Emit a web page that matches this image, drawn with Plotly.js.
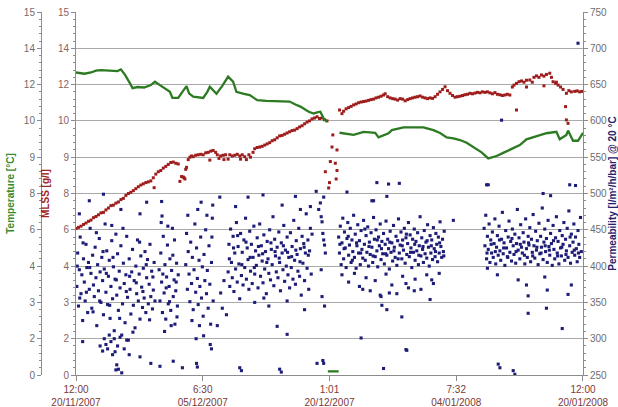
<!DOCTYPE html>
<html>
<head>
<meta charset="utf-8">
<script src="https://cdn.plot.ly/plotly-3.0.1.min.js"></script>
<style>html,body{margin:0;padding:0;background:#fff;}#chart{width:618px;height:407px;}</style>
</head>
<body>
<div id="chart"></div>
<script>
// x values are days since 20/11/2007 12:00
const xTickDays = [0, 15.25, 30.5, 45.75, 61];
const xTickLabels = ["12:00<br>20/11/2007", "6:30<br>05/12/2007", "1:01<br>20/12/2007", "7:32<br>04/01/2008", "12:00<br>20/01/2008"];
const leftTickValues = [0, 1.5, 3, 4.5, 6, 7.5, 9, 10.5, 12, 13.5, 15];
const leftTickLabels = ["0", "2", "3", "4", "6", "8", "9", "10", "12", "14", "15"];
const permTickValues = [250, 300, 350, 400, 450, 500, 550, 600, 650, 700, 750];

// Temperature [°C] (null = break in the record)
const tempDay = [0,1.0,1.8,2.4,3.0,4.0,5.0,5.4,5.9,6.5,6.8,7.4,8.2,9.0,9.5,10.1,10.7,11.3,11.6,12.3,12.8,13.3,13.6,14.1,15.3,15.8,16.1,16.6,16.9,17.6,18.3,18.9,19.3,20.2,20.9,21.4,21.8,22.9,24.5,25.7,26.4,27.0,28.0,28.6,29.0,29.4,29.8,30.2,
  null,30.3,31.6,null,
  31.7,33.4,34.6,36.0,36.4,37.0,37.6,38.0,39.4,41.8,43.0,43.8,44.6,45.4,46.2,47.0,47.8,48.8,49.6,50.6,51.4,52.2,53.4,54.2,55.0,55.8,56.6,57.8,58.2,59.0,59.2,59.8,60.4,61.0];
const temperature = [12.5,12.45,12.5,12.58,12.6,12.58,12.56,12.63,12.4,12.05,11.85,11.9,11.88,11.98,12.12,11.98,11.85,11.7,11.45,11.45,11.7,11.94,11.64,11.5,11.45,11.7,11.91,11.75,11.62,11.95,12.33,12.12,11.7,11.62,11.57,11.45,11.36,11.33,11.32,11.3,11.18,11.09,10.88,10.8,10.85,10.88,10.6,10.47,
  null,0.15,0.15,null,
  10.01,9.92,10.05,10.01,9.82,9.9,9.99,10.12,10.23,10.23,10.12,10.0,9.82,9.78,9.71,9.6,9.43,9.2,8.95,9.05,9.18,9.3,9.5,9.74,9.82,9.92,9.99,10.05,9.74,9.92,10.1,9.68,9.68,10.01];

// MLSS [g/l] as [day, value]
const mlss = [
 [0.0,6.05],[0.3,6.1],[0.6,6.15],[0.9,6.22],[1.2,6.28],[1.5,6.35],[1.8,6.4],[2.1,6.5],[2.4,6.55],[2.7,6.62],[3.0,6.7],[3.3,6.72],[3.6,6.82],[3.9,6.9],[4.2,7.0],[4.5,7.02],[4.8,7.1],[5.1,7.15],[5.4,7.25],[5.7,7.3],[6.0,7.42],[6.3,7.5],[6.6,7.55],[6.9,7.62],[7.2,7.7],[7.5,7.78],[7.8,7.85],[8.1,7.9],[8.4,7.95],[8.7,7.98],[9.0,8.02],[9.3,8.15],[9.4,7.74],[9.6,8.3],[9.9,8.4],[10.2,8.45],[10.5,8.55],[10.8,8.62],[11.1,8.7],[11.4,8.78],[11.7,8.8],[12.0,8.75],[12.3,8.72],
 [12.5,8.0],[12.7,8.2],[12.9,8.18],[13.0,8.15],[13.1,8.1],[13.2,8.5],[13.3,8.58],
 [13.5,8.9],[13.7,9.0],[13.9,9.05],[14.1,9.02],[14.4,9.08],[14.7,9.1],[15.0,9.12],[15.3,9.1],[15.6,9.18],[15.9,9.2],[16.1,8.88],[16.2,9.25],[16.5,9.28],[16.8,9.2],[17.0,9.1],[17.2,8.95],[17.4,9.05],[17.7,9.08],[17.8,8.9],[18.0,9.1],[18.3,8.92],[18.5,9.1],[18.8,9.05],[19.1,9.08],[19.4,9.12],[19.7,9.05],[19.8,8.92],[20.0,9.1],[20.3,9.02],[20.5,8.9],[20.8,9.1],[21.0,9.0],[21.3,9.2],[21.5,9.35],[21.8,9.4],[22.1,9.42],[22.4,9.45],[22.7,9.5],[23.0,9.55],[23.3,9.6],[23.6,9.68],[23.9,9.72],[24.2,9.8],[24.5,9.88],[24.8,9.9],[25.1,9.95],[25.4,10.0],[25.7,10.05],[26.0,10.1],[26.3,10.12],[26.6,10.18],[26.9,10.25],[27.2,10.3],[27.5,10.38],[27.8,10.45],[28.1,10.5],[28.4,10.58],[28.7,10.62],[29.0,10.67],[29.3,10.6],[29.6,10.62],[29.9,10.55],[30.2,10.5],
 [30.9,9.92],[30.8,9.42],[31.4,9.3],[30.6,8.82],[31.2,8.75],[30.0,8.4],[31.4,8.45],[30.5,7.95],[31.3,8.1],[30.4,7.73],
 [31.7,10.95],[32.0,10.8],[32.2,10.9],[32.5,11.0],[32.8,11.05],[33.1,11.1],[33.4,11.16],[33.7,11.2],[34.0,11.25],[34.3,11.28],[34.6,11.3],[34.9,11.32],[35.2,11.35],[35.5,11.38],[35.8,11.4],[36.1,11.45],[36.4,11.48],[36.7,11.52],[37.0,11.57],[37.2,11.62],[37.5,11.5],[37.8,11.45],[38.1,11.42],[38.4,11.4],[38.7,11.36],[39.0,11.42],[39.3,11.4],[39.6,11.33],[39.9,11.38],[40.2,11.42],[40.5,11.45],[40.8,11.48],[41.1,11.5],[41.4,11.53],[41.7,11.48],[42.0,11.45],[42.3,11.42],[42.6,11.45],[42.9,11.43],[43.2,11.5],[43.5,11.6],[43.8,11.7],[44.1,11.8],[44.4,11.91],[44.7,11.75],[45.0,11.64],[45.3,11.55],[45.6,11.48],[45.9,11.5],[46.2,11.52],[46.5,11.55],[46.8,11.58],[47.1,11.6],[47.4,11.64],[47.7,11.62],[48.0,11.65],[48.3,11.68],[48.6,11.66],[48.9,11.7],[49.2,11.68],[49.5,11.7],[49.8,11.66],[50.1,11.62],[50.4,11.67],[50.7,11.6],[51.0,11.58],[51.3,11.55],[51.6,11.57],[51.9,11.6],[52.2,11.57],[52.5,11.9],[52.7,11.98],[53.0,12.05],[53.0,10.95],[53.3,12.12],[53.6,12.15],[53.9,12.1],[54.2,12.18],[54.2,11.9],[54.6,12.19],[54.9,12.1],[55.1,12.3],[55.4,12.36],[55.7,12.3],[56.0,12.4],[56.3,12.35],[56.3,11.95],[56.6,12.42],[57.0,12.47],[57.2,12.3],[57.4,12.12],[57.7,12.05],[57.8,12.1],[58.0,11.98],[58.3,11.9],[58.6,11.8],[58.9,11.09],[59.0,11.64],[59.0,10.54],[59.2,10.4],[59.3,11.75],[59.6,11.7],[60.0,11.72],[60.3,11.74],[60.6,11.7],[60.9,11.72]
];

// Permeability [l/m²/h/bar] @ 20 °C as [day, value]
const permeability = [
 [0.1,372],[0.2,418],[0.3,345],[0.4,395],[0.5,440],[0.6,362],[0.7,388],[0.8,325],[0.9,410],[1.0,378],
 [1.1,352],[1.2,430],[1.3,398],[1.4,336],[1.5,405],[1.6,368],[1.7,452],[1.8,390],[1.9,342],[2.0,415],
 [2.1,374],[2.2,358],[2.3,426],[2.4,384],[2.5,318],[2.6,402],[2.7,366],[2.8,438],[2.9,392],[3.0,350],
 [3.1,412],[3.2,380],[3.3,333],[3.4,396],[3.5,458],[3.6,364],[3.7,421],[3.8,347],[3.9,386],[4.0,408],
 [4.1,328],[4.2,372],[4.3,435],[4.4,355],[4.5,399],[4.6,311],[4.7,382],[4.8,444],[4.9,360],[5.0,417],
 [5.1,339],[5.2,393],[5.3,370],[5.4,428],[5.5,305],[5.6,348],[5.7,404],[5.8,376],[5.9,322],[6.0,388],
 [6.1,441],[6.2,357],[6.3,298],[6.4,410],[6.5,368],[6.6,334],[6.7,392],[6.8,423],[6.9,346],[7.0,380],
 [7.1,315],[7.2,400],[7.3,362],[7.4,436],[7.5,352],[7.6,389],[7.7,327],[7.8,414],[7.9,371],[8.0,343],
 [8.1,397],[8.2,356],[8.3,420],[8.4,336],[8.5,384],[8.6,409],[8.7,348],[8.8,375],[8.9,430],[9.0,358],
 [9.1,393],[9.2,341],[9.3,367],[9.4,405],[9.5,352],
 [0.15,400],[0.45,356],[0.85,432],[1.25,364],[1.65,398],[2.05,337],[2.45,446],[2.85,352],[3.25,420],[3.65,390],
 [4.05,346],[4.45,412],[4.85,381],[5.25,328],[5.65,452],[6.05,365],[6.45,386],[6.85,309],[7.25,377],[7.65,433],
 [8.05,365],[8.45,402],[8.85,326],[9.25,385],
 [0.4,472],[1.6,490],[3.3,499],[4.3,456],[5.4,478],[7.7,472],[8.5,488],[2.9,290],[6.4,278],[0.8,296],[3.2,283],[4.8,257],[5.5,253],
 [3.4,300],[3.6,292],[3.8,286],[4.0,305],[4.2,296],[4.4,278],[4.6,300],[4.7,282],[4.9,264],[5.0,290],[5.1,258],[5.3,302],[5.8,286],[6.1,298],[7.7,275],[9.0,266],
 [10.0,395],[10.1,352],[10.2,418],[10.3,378],[10.4,336],[10.5,441],[10.6,363],[10.7,402],[10.8,327],[10.9,385],
 [11.0,429],[11.1,348],[11.2,372],[11.3,410],[11.4,339],[11.5,394],[11.6,452],[11.7,358],[11.8,381],[11.9,320],
 [12.0,366],[12.1,404],[12.2,345],[12.3,388],[10.25,460],[10.65,310],[11.05,455],[11.45,318],[11.85,436],[12.15,330],
 [10.45,389],[10.85,370],[11.25,351],[11.65,415],[12.05,378],[10.3,489],[10.35,469],[10.1,262],[11.7,269],[12.8,260],
 [13.2,402],[13.3,445],[13.4,368],[13.5,420],[13.6,389],[13.7,351],[13.8,433],[13.9,376],[14.0,412],[14.1,340],
 [14.2,395],[14.3,458],[14.4,364],[14.5,425],[14.6,383],[14.7,347],[14.8,408],[14.9,372],[15.0,440],[15.1,356],
 [15.2,399],[15.3,331],[15.4,416],[15.5,380],[15.6,450],[15.7,362],[15.8,394],[15.9,342],[16.0,428],[16.1,375],
 [16.2,320],[16.3,405],[16.4,466],[16.5,352],[13.45,470],[13.95,325],[14.45,300],[14.85,318],[15.35,304],[15.75,470],
 [16.15,292],[16.35,440],[14.65,478],[15.05,488],[16.45,484],[14.6,261],[14.5,266],[16.3,286],
 [17.3,495],[17.4,363],[17.6,342],[17.0,318],[17.8,380],
 [18.3,392],[18.4,430],[18.5,372],[18.6,451],[18.7,405],[18.8,384],[18.9,441],[19.0,365],[19.1,418],[19.2,396],
 [19.3,460],[19.4,378],[19.5,427],[19.6,403],[19.7,355],[19.8,445],[19.9,387],[20.0,419],[20.1,374],[20.2,436],
 [20.3,398],[20.4,466],[20.5,382],[20.6,425],[20.7,409],[20.8,368],[20.9,448],[21.0,393],[21.1,430],[21.2,376],
 [21.3,412],[21.4,455],[21.5,389],[21.6,421],[21.7,401],[21.8,439],[21.9,370],[22.0,415],[22.1,458],[22.2,386],
 [22.3,428],[22.4,407],[22.5,377],[22.6,443],[22.7,396],[22.8,420],[22.9,362],[23.0,434],[23.1,410],[23.2,390],
 [23.3,450],[23.4,381],[23.5,423],[23.6,402],[23.7,468],[23.8,373],[23.9,437],[24.0,414],[24.1,392],[24.2,426],
 [24.3,384],[24.4,447],[24.5,405],[24.6,366],[24.7,432],[24.8,418],[24.9,395],[25.0,456],[25.1,379],[25.2,422],
 [25.3,400],[25.4,440],[25.5,388],[25.6,412],[25.7,370],[25.8,446],[25.9,398],[26.0,427],[26.1,382],[26.2,463],
 [26.3,408],[26.4,375],[26.5,435],[26.6,416],[26.7,393],[26.8,452],[26.9,386],[27.0,424],[27.1,360],[27.2,441],
 [27.3,404],[27.4,431],[27.5,380],[27.6,418],[27.7,472],[27.8,397],[27.9,436],[28.0,368],[28.1,421],[28.2,452],
 [28.3,389],[28.4,444],
 [18.45,410],[18.95,425],[19.45,442],[19.95,402],[20.45,433],[20.95,412],[21.45,398],[21.95,427],[22.45,417],[22.95,405],
 [23.45,432],[23.95,420],[24.45,411],[24.95,428],[25.45,419],[25.95,413],[26.45,422],[26.95,406],[27.45,426],[27.95,415],
 [20.7,495],[22.5,498],[26.4,496],[19.2,482],[24.8,484],[27.0,478],[28.2,482],[21.5,350],[23.2,345],[25.4,352],[27.5,340],[22.6,356],
 [18.1,333],[19.9,256],[24.7,254],[24.5,258],[19.7,260],[24.2,317],[25.4,306],
 [29.4,487],[29.5,468],[29.6,461],[29.7,445],[29.8,436],[29.9,429],[30.0,418],[29.5,395],[29.6,358],[29.9,345],[29.7,270],[29.8,266],[28.9,503],[29.2,478],[29.8,495],[29.0,266],
 [31.6,440],[31.7,418],[31.8,455],[31.9,402],[32.0,432],[32.1,466],[32.2,410],[32.3,447],[32.4,425],[32.5,398],
 [32.6,438],[32.7,460],[32.8,415],[32.9,429],[33.0,452],[33.1,405],[33.2,436],[33.3,420],[33.4,470],[33.5,412],
 [33.6,444],[33.7,397],[33.8,428],[33.9,457],[34.0,418],[34.1,435],[34.2,402],[34.3,449],[34.4,423],[34.5,411],
 [34.6,463],[34.7,430],[34.8,408],[34.9,442],[35.0,419],[35.1,454],[35.2,400],[35.3,433],[35.4,416],[35.5,446],
 [35.6,426],[35.7,405],[35.8,467],[35.9,437],[36.0,413],[36.1,450],[36.2,421],[36.3,399],[36.4,440],[36.5,428],
 [36.6,458],[36.7,409],[36.8,434],[36.9,417],[37.0,445],[37.1,403],[37.2,430],[37.3,462],[37.4,415],[37.5,437],
 [37.6,424],[37.7,396],[37.8,448],[37.9,419],[38.0,432],[38.1,407],[38.2,456],[38.3,426],[38.4,412],[38.5,441],
 [38.6,401],[38.7,435],[38.8,465],[38.9,418],[39.0,429],[39.1,447],[39.2,410],[39.3,436],[39.4,422],[39.5,452],
 [39.6,404],[39.7,439],[39.8,416],[39.9,431],[40.0,460],[40.1,413],[40.2,443],[40.3,425],[40.4,398],[40.5,437],
 [40.6,419],[40.7,451],[40.8,408],[40.9,434],[41.0,421],[41.1,446],[41.2,402],[41.3,428],[41.4,468],[41.5,414],
 [41.6,439],[41.7,423],[41.8,405],[41.9,449],[42.0,417],[42.1,433],[42.2,411],[42.3,457],[42.4,426],[42.5,400],
 [42.6,442],[42.7,418],[42.8,436],[42.9,409],[43.0,453],[43.1,424],[43.2,413],[43.3,445],[43.4,430],[43.5,406],
 [43.6,440],[43.7,418],[43.8,461],[43.9,427],[44.0,412],[44.1,437],[44.2,420],[44.3,448],
 [31.75,430],[32.25,424],[32.75,441],[33.25,408],[33.75,432],[34.25,418],[34.75,451],[35.25,427],[35.75,414],[36.25,436],
 [36.75,424],[37.25,417],[37.75,433],[38.25,421],[38.75,410],[39.25,428],[39.75,444],[40.25,419],[40.75,430],[41.25,415],
 [41.75,427],[42.25,435],[42.75,428],[43.25,420],[43.75,432],[44.25,414],
 [32.0,388],[32.8,378],[33.5,390],[34.1,372],[34.9,384],[35.4,366],[36.0,380],[36.7,358],[37.3,389],[38.0,374],
 [38.6,362],[39.3,386],[40.0,370],[40.8,382],[41.5,368],[42.2,388],[43.0,376],[43.7,390],
 [34.5,368],[36.6,360],[37.7,363],[36.8,346],[37.4,340],[39.2,330],[39.7,376],[40.7,366],[42.6,354],[42.8,381],[34.3,301],[39.7,285],[37.0,259],[39.8,284],
 [32.6,502],[35.6,490],[35.8,490],[37.4,496],[36.2,515],[37.6,513],[38.9,514],
 [45.4,463],[49.4,512],[51.2,601],[60.4,707],
 [49.1,452],[49.2,428],[49.3,470],[49.4,410],[49.5,441],[49.6,423],[49.7,458],[49.8,405],[49.9,436],[50.0,418],
 [50.1,447],[50.2,412],[50.3,431],[50.4,465],[50.5,403],[50.6,426],[50.7,442],[50.8,415],[50.9,455],[51.0,421],
 [51.1,408],[51.2,437],[51.3,474],[51.4,417],[51.5,432],[51.6,401],[51.7,449],[51.8,425],[51.9,413],[52.0,440],
 [52.1,462],[52.2,419],[52.3,434],[52.4,407],[52.5,451],[52.6,428],[52.7,416],[52.8,444],[52.9,404],[53.0,431],
 [53.1,478],[53.2,422],[53.3,439],[53.4,410],[53.5,457],[53.6,426],[53.7,418],[53.8,446],[53.9,433],[54.0,403],
 [54.1,465],[54.2,424],[54.3,412],[54.4,441],[54.5,429],[54.6,453],[54.7,406],[54.8,437],[54.9,419],[55.0,471],
 [55.1,428],[55.2,411],[55.3,448],[55.4,422],[55.5,435],[55.6,402],[55.7,459],[55.8,417],[55.9,441],[56.0,426],
 [56.1,480],[56.2,409],[56.3,433],[56.4,451],[56.5,420],[56.6,438],[56.7,405],[56.8,463],[56.9,427],[57.0,415],
 [57.1,445],[57.2,431],[57.3,401],[57.4,456],[57.5,423],[57.6,410],[57.7,439],[57.8,468],[57.9,418],[58.0,434],
 [58.1,403],[58.2,449],[58.3,425],[58.4,414],[58.5,442],[58.6,430],[58.7,460],[58.8,408],[58.9,437],[59.0,421],
 [59.1,452],[59.2,412],[59.3,476],[59.4,428],[59.5,404],[59.6,444],[59.7,419],[59.8,433],[59.9,458],[60.0,415],
 [60.1,440],[60.2,424],[60.3,406],[60.4,449],[60.5,430],[60.6,412],[60.7,467],[60.8,420],
 [49.45,418],[49.95,430],[50.45,420],[50.95,436],[51.45,425],[51.95,412],[52.45,438],[52.95,420],[53.45,430],[53.95,415],
 [54.45,432],[54.95,414],[55.45,426],[55.95,418],[56.45,428],[56.95,422],[57.45,435],[57.95,414],[58.45,426],[58.95,416],
 [59.45,440],[59.95,422],[60.45,418],
 [49.6,512],[59.4,512],[60.1,511],[56.2,500],[57.1,497],[49.5,397],[50.7,388],[53.2,381],[54.2,374],[54.4,359],[54.4,335],
 [56.6,342],[56.4,385],[56.7,367],[58.5,314],[59.2,361],[59.6,374],[50.8,265],[52.6,256],[51.0,260],[52.8,251]
];

const fontFam = "'Liberation Sans', Arial, sans-serif";
const axisGrey = '#8c8c8c';
const tickGrey = '#6e6e6e';

const traces = [
  {
    x: permeability.map(p => p[0]), y: permeability.map(p => p[1]),
    yaxis: 'y3', type: 'scatter', mode: 'markers', name: 'Permeability',
    marker: {symbol: 'square', size: 3.1, color: '#1d1d78'}
  },
  {
    x: mlss.map(p => p[0]), y: mlss.map(p => p[1]),
    yaxis: 'y', type: 'scatter', mode: 'markers', name: 'MLSS',
    marker: {symbol: 'square', size: 3, color: '#9e1c1c'}
  },
  {
    x: tempDay, y: temperature,
    yaxis: 'y2', type: 'scatter', mode: 'lines', name: 'Temperature',
    line: {color: '#2c7a22', width: 2.3, shape: 'linear'}, connectgaps: false
  }
];

const minorLeft = {tickmode: 'linear', tick0: 0, dtick: 0.3, ticks: 'outside', ticklen: 2, tickcolor: axisGrey, showgrid: false};

const layout = {
  width: 618, height: 407,
  margin: {l: 10, r: 35, t: 12, b: 32, pad: 0},
  paper_bgcolor: '#ffffff', plot_bgcolor: '#ffffff',
  showlegend: false,
  font: {family: fontFam, size: 10, color: tickGrey},
  xaxis: {
    domain: [0.1152, 1], range: [0, 61],
    tickmode: 'array', tickvals: xTickDays, ticktext: xTickLabels,
    ticks: 'outside', ticklen: 5, tickcolor: axisGrey,
    showline: true, linecolor: axisGrey, linewidth: 1,
    showgrid: false, zeroline: false,
    tickfont: {family: fontFam, size: 10, color: '#7a3a3a'}
  },
  yaxis: {
    range: [0, 15], tickmode: 'array', tickvals: leftTickValues, ticktext: leftTickLabels,
    ticks: 'outside', ticklen: 4, tickcolor: axisGrey,
    showline: true, linecolor: axisGrey, linewidth: 1,
    showgrid: true, gridcolor: '#a9a9a9', gridwidth: 1, zeroline: false,
    tickfont: {family: fontFam, size: 10, color: '#8a6464'},
    minor: minorLeft,
    title: {text: '<b>MLSS [g/l]</b>', standoff: 6, font: {family: fontFam, size: 10, color: '#a02424'}}
  },
  yaxis2: {
    overlaying: 'y', anchor: 'free', position: 0.0541, side: 'left',
    range: [0, 15], tickmode: 'array', tickvals: leftTickValues, ticktext: leftTickLabels,
    ticks: 'outside', ticklen: 4, tickcolor: axisGrey,
    showline: true, linecolor: axisGrey, linewidth: 1,
    showgrid: false, zeroline: false,
    tickfont: {family: fontFam, size: 10, color: tickGrey},
    minor: minorLeft,
    title: {text: '<b>Temperature [°C]</b>', standoff: 6, font: {family: fontFam, size: 10, color: '#3a8a2e'}}
  },
  yaxis3: {
    overlaying: 'y', anchor: 'x', side: 'right',
    range: [250, 750], tickmode: 'array', tickvals: permTickValues,
    ticks: 'outside', ticklen: 4, tickcolor: axisGrey,
    showline: true, linecolor: axisGrey, linewidth: 1,
    showgrid: false, zeroline: false,
    tickfont: {family: fontFam, size: 10, color: tickGrey},
    minor: {tickmode: 'linear', tick0: 250, dtick: 10, ticks: 'outside', ticklen: 2, tickcolor: axisGrey, showgrid: false},
    title: {text: '<b>Permeability [l/m²/h/bar] @ 20 °C</b>', standoff: 2, font: {family: fontFam, size: 10, color: '#22226e'}}
  }
};

Plotly.newPlot('chart', traces, layout, {staticPlot: true, displayModeBar: false});
</script>
</body>
</html>
